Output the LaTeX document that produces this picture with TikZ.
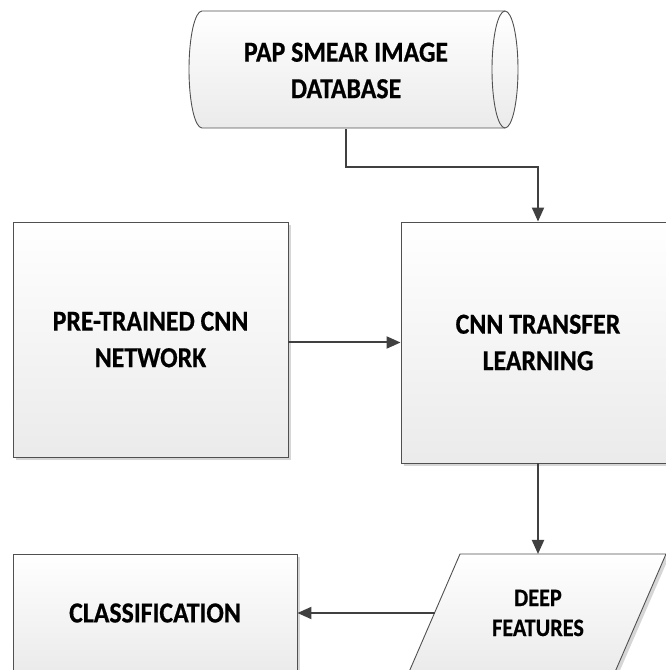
\documentclass[tikz,border=0pt]{standalone}
\usepackage{fontspec}
\setmainfont{Carlito}[FakeStretch=0.89, BoldFeatures={FakeBold=0.6}]
\usetikzlibrary{arrows.meta,shadows}
\definecolor{lineGray}{HTML}{404040}
\definecolor{edgeGray}{HTML}{505050}
\tikzset{
  flow/.style={draw=lineGray, line width=2pt, -{Triangle[length=14pt,width=12pt]}},
  shapeface/.style={draw=edgeGray, line width=0.9pt, top color=white, bottom color=black!8},
  shapeshadow/.style={fill=black!16, draw=none},
  bigtext/.style={font=\bfseries\fontsize{29}{36.5}\selectfont, align=center, text=black},
  smalltext/.style={font=\bfseries\fontsize{25}{30}\selectfont, align=center, text=black},
  procbox/.style={shapeface, rectangle, inner sep=0pt, bigtext,
    drop shadow={shadow xshift=3pt, shadow yshift=-3pt, fill=black!16, opacity=1}}
}
\begin{document}
\begin{tikzpicture}[x=1pt, y=1pt]
  \useasboundingbox (0,0) rectangle (666,670);
  \clip (0,0) rectangle (666,670);

  % database cylinder
  \path[shapeface] (202,659) -- (505,659)
    arc[start angle=90, end angle=-90, x radius=13, y radius=58.5]
    -- (202,542)
    arc[start angle=270, end angle=90, x radius=13, y radius=58.5] -- cycle;
  \draw[draw=edgeGray, line width=0.9pt] (505,659)
    arc[start angle=90, end angle=270, x radius=13, y radius=58.5];
  \node[bigtext, minimum width=290pt, minimum height=117pt, inner sep=0pt] (db) at (346,599.5)
    {PAP SMEAR IMAGE\\DATABASE};

  % process boxes
  \node[procbox, minimum width=275pt, minimum height=235pt] (pre) at (150.5,330.5)
    {PRE-TRAINED CNN\\NETWORK};
  \node[procbox, minimum width=274pt, minimum height=241pt] (trans) at (538,327.5)
    {CNN TRANSFER\\LEARNING};
  \node[procbox, minimum width=284pt, minimum height=118pt] (cls) at (155,57)
    {CLASSIFICATION};

  % deep features data block
  \fill[shapeshadow, shift={(3,-3)}] (409,-2) -- (460,116) -- (666,116) -- (615,-2) -- cycle;
  \path[shapeface] (409,-2) -- (460,116) -- (666,116) -- (615,-2) -- cycle;
  \coordinate (featTop) at (538,116);
  \coordinate (featL) at (434.5,57);
  \node[smalltext] (feat) at (538,57) {DEEP\\FEATURES};

  % connectors
  \coordinate (bend) at (450,503);
  \draw[flow] (db.south) |- (bend) -| (trans.north);
  \draw[flow] (trans.west -| pre.east) -- (trans.west);
  \draw[flow] (trans.south) -- (featTop);
  \draw[flow] (featL) -- (cls.east);
\end{tikzpicture}
\end{document}
